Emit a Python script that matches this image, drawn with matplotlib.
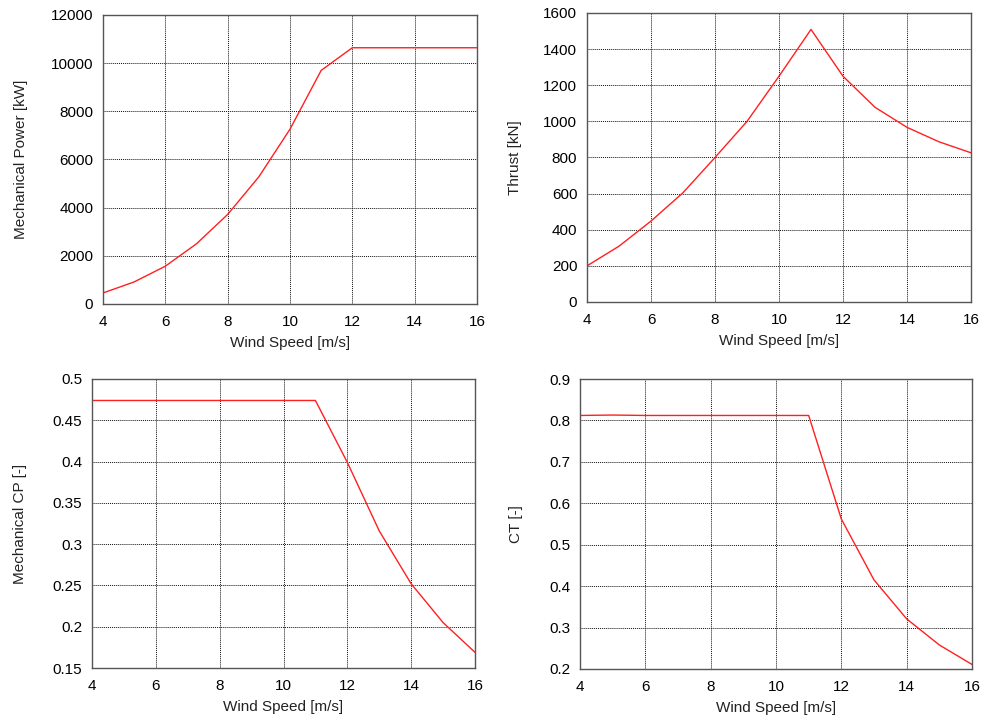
import matplotlib.pyplot as plt

plt.rcParams['font.family'] = ['Liberation Sans', 'DejaVu Sans']

# wind speeds [m/s]
wind = [4, 5, 6, 7, 8, 9, 10, 11, 12, 13, 14, 15, 16]

# rotor curves
power_kw = [458, 917, 1570, 2500, 3720, 5280, 7260, 9700, 10640, 10640, 10640, 10640, 10640]
thrust_kn = [200, 309, 448, 605, 800, 1000, 1250, 1509, 1250, 1078, 967, 887, 826]
cp = [0.474, 0.474, 0.474, 0.474, 0.474, 0.474, 0.474, 0.474, 0.399, 0.316, 0.252, 0.205, 0.169]
ct = [0.812, 0.813, 0.812, 0.812, 0.812, 0.812, 0.812, 0.812, 0.562, 0.415, 0.321, 0.258, 0.211]

panels = [
    # data, ylabel, ylim, ystep, axes rect in pixels (left, top, right, bottom), ylabel right edge px
    (power_kw, 'Mechanical Power [kW]', (0, 12000), 2000, (103, 15, 477, 304), 28),
    (thrust_kn, 'Thrust [kN]', (0, 1600), 200, (587, 13, 971, 302), 522),
    (cp, 'Mechanical CP [-]', (0.15, 0.5), 0.05, (92, 379, 475, 668), 27),
    (ct, 'CT [-]', (0.2, 0.9), 0.1, (580, 379, 972, 669), 523),
]

W, H = 986, 719
fig = plt.figure(figsize=(W / 100, H / 100), dpi=100)

for values, ylabel, ylim, ystep, (l, t, r, b), lab_x in panels:
    ax = fig.add_axes([l / W, 1 - b / H, (r - l) / W, (b - t) / H])
    ax.plot(wind, values, color='#ff2020', lw=1.0)
    ax.set_xlim(4, 16)
    ax.set_ylim(*ylim)
    ax.set_xticks(range(4, 17, 2))
    n = int(round((ylim[1] - ylim[0]) / ystep))
    yt = [round(ylim[0] + i * ystep, 4) for i in range(n + 1)]
    ax.set_yticks(yt)
    ax.set_yticklabels([('%g' % v) for v in yt])
    ax.grid(True, color='#111111', linestyle=(0, (1, 1)), linewidth=0.7)
    ax.tick_params(axis='x', length=0, labelsize=11, pad=8)
    ax.tick_params(axis='y', length=0, labelsize=11, pad=7)
    ax.set_xlabel('Wind Speed [m/s]', fontsize=11, color='#222222', labelpad=5)
    ax.set_ylabel(ylabel, fontsize=11, color='#222222')
    ax.yaxis.set_label_coords((lab_x - l) / (r - l), 0.5)
    for s in ax.spines.values():
        s.set_color('#555555')
        s.set_linewidth(1.0)

fig.savefig('out.png', dpi=100, facecolor='white')
